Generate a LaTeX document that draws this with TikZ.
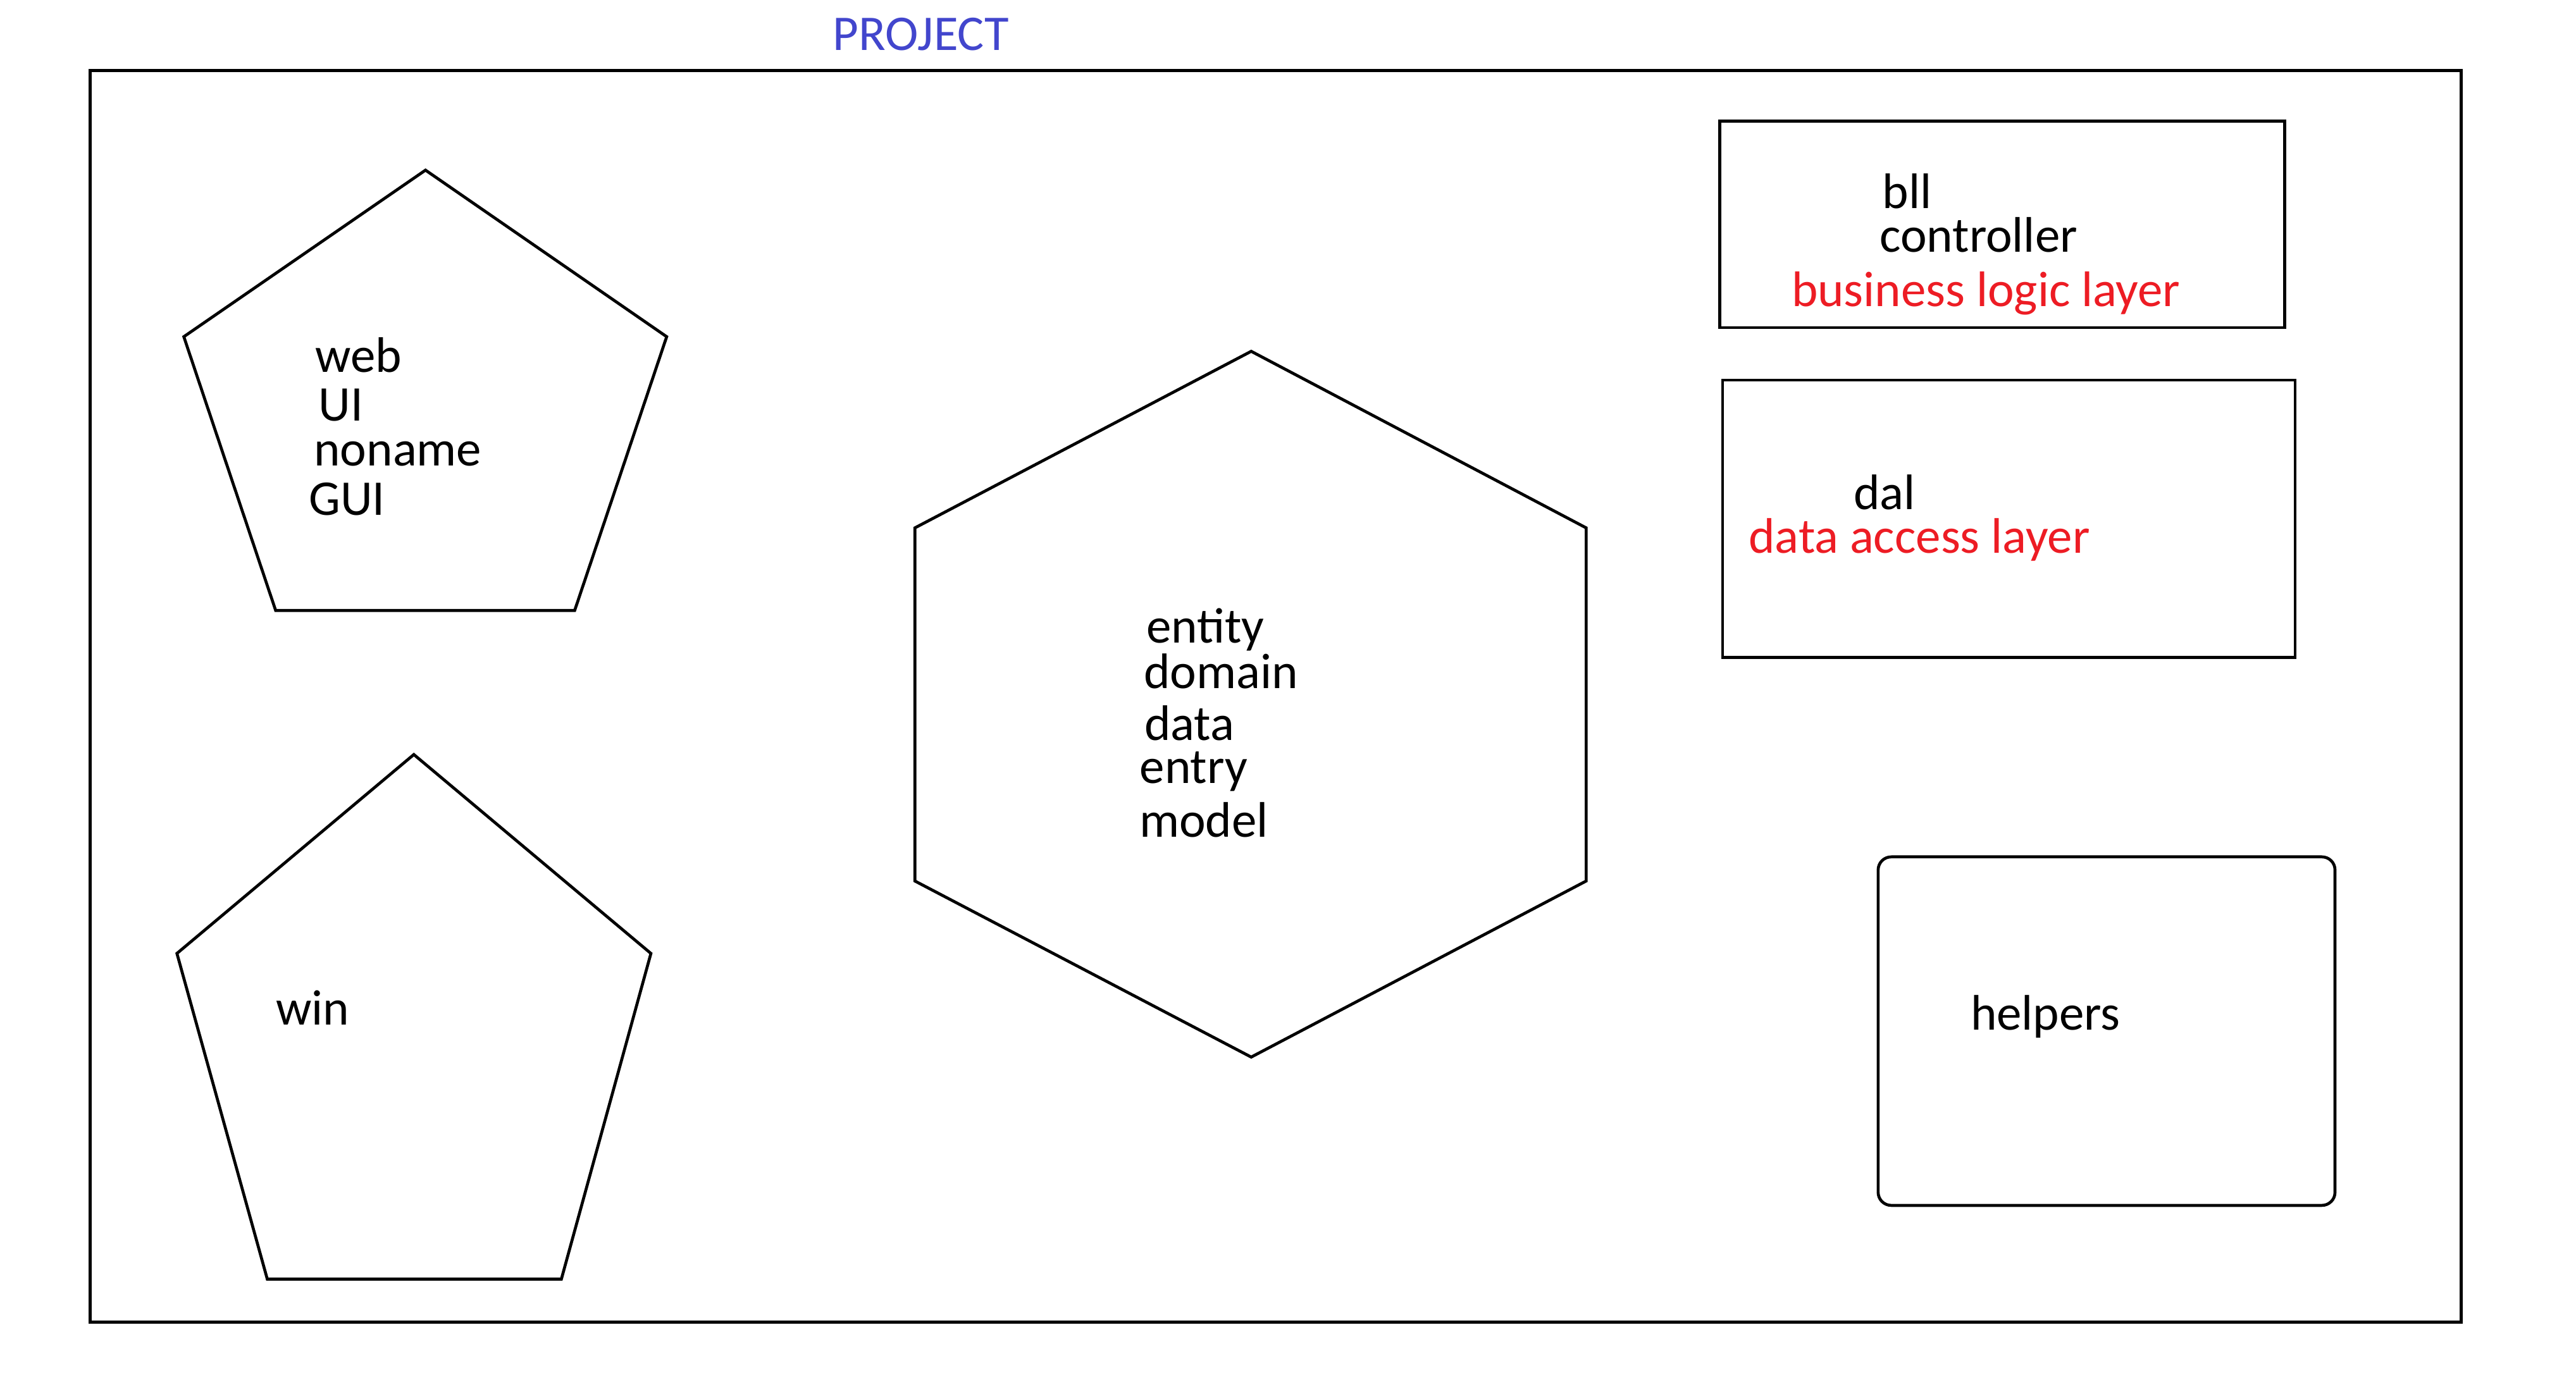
\documentclass[tikz,border=0pt]{standalone}
\usepackage{fontspec}
\setmainfont{Carlito}
\definecolor{layerred}{RGB}{237,28,36}
\definecolor{projblue}{RGB}{66,70,205}
\begin{document}
\begin{tikzpicture}[x=0.5pt,y=-0.5pt,
  shapeline/.style={draw=black,line width=0.9pt,line join=miter},
  lbl/.style={anchor=base west,inner sep=0pt,outer sep=0pt,yshift=-0.75pt,font=\fontsize{15.2pt}{18pt}\selectfont},
  redlbl/.style={lbl,text=layerred},
  bluelbl/.style={lbl,text=projblue}]
\useasboundingbox (0,0) rectangle (1568,840);

% title and outer frame
\node[bluelbl] (title) at (507,29) {PROJECT};
\draw[shapeline] (55,43) rectangle (1498,805);

% web pentagon
\draw[shapeline] (259,103.6) -- (405.8,205) -- (349.8,371.7) -- (167.8,371.7) -- (111.9,205) -- cycle;
\node[lbl] (web) at (191.9,225.3) {web};
\node[lbl] (ui) at (194,254.7) {UI};
\node[lbl] (noname) at (191.2,282) {noname};
\node[lbl] (gui) at (188.1,312.2) {GUI};

% win pentagon
\draw[shapeline] (251.9,459.4) -- (396.2,580.5) -- (341.7,778.8) -- (162.7,778.8) -- (107.7,580.5) -- cycle;
\node[lbl] (win) at (167.9,622.5) {win};

% hexagon
\draw[shapeline] (761.6,213.9) -- (965.5,321.4) -- (965.5,536.4) -- (761.6,643.6) -- (556.9,536.4) -- (556.9,321.4) -- cycle;
\node[lbl] (entity) at (697.8,390) {entity};
\node[lbl] (domain) at (696.4,417.6) {domain};
\node[lbl] (data) at (696.7,449.4) {data};
\node[lbl] (entry) at (693.8,475.5) {entry};
\node[lbl] (model) at (693.6,508.3) {model};

% bll box
\draw[shapeline] (1046.7,73.7) rectangle (1390.7,199.5);
\node[lbl] (bll) at (1145.8,125.5) {bll};
\node[lbl] (controller) at (1144.2,151.9) {controller};
\node[redlbl] (bizlayer) at (1090.5,185) {business logic layer};

% dal box
\draw[shapeline] (1048.5,231.4) rectangle (1397,400.4);
\node[lbl] (dal) at (1128.3,308.6) {dal};
\node[redlbl] (datalayer) at (1064.5,335.2) {data access layer};

% helpers box
\draw[shapeline,rounded corners=4pt] (1143.2,521.7) rectangle (1421.3,733.9);
\node[lbl] (helpers) at (1199.5,625.6) {helpers};
\end{tikzpicture}
\end{document}
